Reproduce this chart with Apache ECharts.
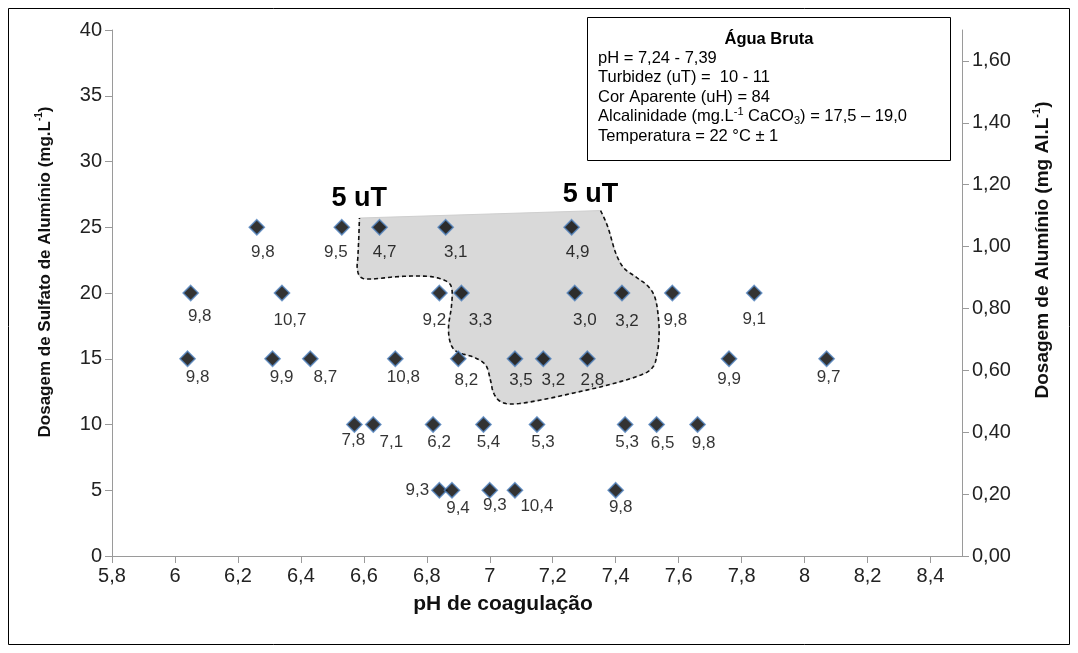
<!DOCTYPE html>
<html>
<head>
<meta charset="utf-8">
<script src="https://cdn.jsdelivr.net/npm/echarts@6/dist/echarts.min.js"></script>
<style>
  html, body { margin: 0; padding: 0; background: #ffffff; }
  #chart { width: 1078px; height: 653px; }
</style>
</head>
<body>
<div id="chart"></div>
<script>
// Jar tests: coagulation pH, aluminium sulphate dose (mg/L) and residual turbidity (uT)
const phDose25 = [6.26, 6.53, 6.65, 6.86, 7.26];
const turb25   = [9.8, 9.5, 4.7, 3.1, 4.9];
const phDose20 = [6.05, 6.34, 6.84, 6.91, 7.27, 7.42, 7.58, 7.84];
const turb20   = [9.8, 10.7, 9.2, 3.3, 3.0, 3.2, 9.8, 9.1];
const phDose15 = [6.04, 6.31, 6.43, 6.70, 6.90, 7.08, 7.17, 7.31, 7.76, 8.07];
const turb15   = [9.8, 9.9, 8.7, 10.8, 8.2, 3.5, 3.2, 2.8, 9.9, 9.7];
const phDose10 = [6.57, 6.63, 6.82, 6.98, 7.15, 7.43, 7.53, 7.66];
const turb10   = [7.8, 7.1, 6.2, 5.4, 5.3, 5.3, 6.5, 9.8];
const phDose5  = [6.84, 6.88, 7.00, 7.08, 7.40];
const turb5    = [9.3, 9.4, 9.3, 10.4, 9.8];

const doseLevels = [25, 20, 15, 10, 5];

// Tick values of the pH axis and of the aluminium (mg Al/L) axis
const phTicks = [5.8, 6.0, 6.2, 6.4, 6.6, 6.8, 7.0, 7.2, 7.4, 7.6, 7.8, 8.0, 8.2, 8.4];
const alTicks = [0, 0.2, 0.4, 0.6, 0.8, 1.0, 1.2, 1.4, 1.6];

// Outline of the region with residual turbidity of about 5 uT (pH, dose)
const zonePh   = [6.586, 7.352, 7.375, 7.400, 7.426, 7.464, 7.505, 7.527, 7.537, 7.537, 7.531, 7.518,
                  7.480, 7.375, 7.267, 7.162, 7.076, 7.034, 7.012, 7.002, 6.987, 6.948, 6.897, 6.875,
                  6.869, 6.878, 6.880, 6.866, 6.821, 6.758, 6.694, 6.621, 6.589, 6.579, 6.581, 6.584];
const zoneDose = [25.70, 26.27, 25.02, 23.04, 21.90, 21.22, 20.46, 19.47, 17.72, 16.43, 15.29, 14.37,
                  13.76, 13.00, 12.40, 11.86, 11.56, 11.75, 12.40, 13.38, 14.52, 15.13, 15.51, 16.20,
                  17.41, 18.94, 20.23, 20.84, 21.22, 21.29, 21.22, 21.06, 21.22, 21.90, 22.74, 24.26];

// "5 uT" captions (pH, dose)
const captionPh   = [6.585, 7.320];
const captionDose = [27.15, 27.45];
const captionText = ['5 uT', '5 uT'];

// Data-label nudges (px) for each row of points
const labelNudge = [
  [[6, 25], [-6, 25], [5, 25], [10, 25], [6, 25]],
  [[9, 23], [8, 27], [-5, 27], [19, 27], [10, 27], [5, 28], [3, 27], [0, 26]],
  [[10, 19], [9, 19], [15, 19], [8, 19], [8, 22], [6, 22], [10, 22], [5, 22], [0, 21], [2, 19]],
  [[-1, 16], [18, 18], [6, 18], [5, 18], [6, 18], [2, 18], [6, 19], [6, 19]],
  [[-22, 0], [6, 18], [5, 15], [22, 16], [5, 17]]
];

const FONT = '"Liberation Sans", Arial, sans-serif';
const rows = [[phDose25, turb25], [phDose20, turb20], [phDose15, turb15], [phDose10, turb10], [phDose5, turb5]];

const points = [];
rows.forEach(function (row, r) {
  row[0].forEach(function (ph, i) {
    points.push({
      value: [ph, doseLevels[r], row[1][i]],
      label: { offset: labelNudge[r][i] }
    });
  });
});

function comma(v, d) { return v.toFixed(d).replace('.', ','); }

// Catmull-Rom interpolation through the outline points
function catmull(pts, steps) {
  const out = [];
  const n = pts.length;
  for (let i = 0; i < n - 1; i++) {
    const p0 = pts[Math.max(i - 1, 0)], p1 = pts[i], p2 = pts[i + 1], p3 = pts[Math.min(i + 2, n - 1)];
    for (let s = 0; s < steps; s++) {
      const t = s / steps, t2 = t * t, t3 = t2 * t;
      out.push([
        0.5 * (2 * p1[0] + (-p0[0] + p2[0]) * t + (2 * p0[0] - 5 * p1[0] + 4 * p2[0] - p3[0]) * t2 + (-p0[0] + 3 * p1[0] - 3 * p2[0] + p3[0]) * t3),
        0.5 * (2 * p1[1] + (-p0[1] + p2[1]) * t + (2 * p0[1] - 5 * p1[1] + 4 * p2[1] - p3[1]) * t2 + (-p0[1] + 3 * p1[1] - 3 * p2[1] + p3[1]) * t3)
      ]);
    }
  }
  out.push(pts[n - 1]);
  return out;
}

function renderZone(params, api) {
  const px = zonePh.map(function (ph, i) { return api.coord([ph, zoneDose[i]]); });
  // dashed edge runs from the top-right corner round to the top-left corner
  const edge = px.slice(1).concat([px[0]]);
  const curve = catmull(edge, 8);
  const children = [
    { type: 'polygon', shape: { points: curve }, style: { fill: '#d9d9d9', stroke: '#cfcfcf', lineWidth: 1 } },
    { type: 'polyline', shape: { points: curve }, style: { fill: null, stroke: '#111', lineWidth: 1.6, lineDash: [4, 3] } }
  ];
  captionPh.forEach(function (ph, i) {
    const c = api.coord([ph, captionDose[i]]);
    children.push({
      type: 'text', x: c[0], y: c[1],
      style: { text: captionText[i], fill: '#000', font: 'bold 27px ' + FONT, align: 'center', verticalAlign: 'middle' }
    });
  });
  return { type: 'group', children: children };
}

const axisGray = '#9a9a9a';
const titleRich = function (size) {
  return {
    t: { fontFamily: FONT, fontSize: size, fontWeight: 'bold', fill: '#111', lineHeight: size + 4 },
    s: { fontFamily: FONT, fontSize: Math.round(size * 0.6), fontWeight: 'bold', fill: '#111', lineHeight: 11, verticalAlign: 'top' }
  };
};

const chart = echarts.init(document.getElementById('chart'), null, { renderer: 'canvas' });

chart.setOption({
  animation: false,
  backgroundColor: '#ffffff',
  grid: { left: 112, right: 116, top: 30, bottom: 97, containLabel: false },
  xAxis: {
    type: 'value', min: 5.8, max: 8.5, interval: 0.2,
    splitLine: { show: false },
    axisLine: { onZero: false, lineStyle: { color: axisGray, width: 1 } },
    axisTick: { show: true, length: 7, lineStyle: { color: axisGray }, customValues: phTicks },
    axisLabel: {
      fontFamily: FONT, fontSize: 20, color: '#222', margin: 10, customValues: phTicks,
      formatter: function (v) { return String(Math.round(v * 10) / 10).replace('.', ','); }
    }
  },
  yAxis: [
    {
      type: 'value', min: 0, max: 40, interval: 5, position: 'left',
      splitLine: { show: false },
      axisLine: { show: true, lineStyle: { color: axisGray, width: 1 } },
      axisTick: { show: true, length: 7, lineStyle: { color: axisGray } },
      axisLabel: { fontFamily: FONT, fontSize: 20, color: '#222', margin: 10 }
    },
    {
      type: 'value', min: 0, max: 1.7, interval: 0.2, position: 'right',
      splitLine: { show: false },
      axisLine: { show: true, lineStyle: { color: axisGray, width: 1 } },
      axisTick: { show: true, length: 7, lineStyle: { color: axisGray }, customValues: alTicks },
      axisLabel: {
        fontFamily: FONT, fontSize: 20, color: '#222', margin: 10, customValues: alTicks,
        formatter: function (v) { return comma(v, 2); }
      }
    }
  ],
  series: [
    {
      type: 'custom', name: 'zona 5 uT', coordinateSystem: 'cartesian2d', xAxisIndex: 0, yAxisIndex: 0,
      data: [0], renderItem: renderZone, z: 1, silent: true, clip: false
    },
    {
      type: 'scatter', name: 'Turbidez remanescente', xAxisIndex: 0, yAxisIndex: 0,
      symbol: 'diamond', symbolSize: 15, z: 3,
      itemStyle: { color: '#000000', borderColor: '#4f81bd', borderWidth: 1.6 },
      label: {
        show: true, position: 'inside', fontFamily: FONT, fontSize: 17, color: '#000',
        textBorderWidth: 0,
        formatter: function (p) { return comma(p.value[2], 1); }
      },
      data: points
    }
  ],
  graphic: [
    { type: 'rect', shape: { x: 8.5, y: 8.5, width: 1061, height: 636 }, style: { fill: null, stroke: '#000', lineWidth: 1 }, z: 0, silent: true },
    // axis titles
    {
      type: 'text', x: 45, y: 272, rotation: Math.PI / 2, silent: true,
      style: { text: '{t|Dosagem de Sulfato de Alumínio (mg.L}{s|-1}{t|)}', align: 'center', verticalAlign: 'middle', rich: titleRich(17) }
    },
    {
      type: 'text', x: 1043, y: 250, rotation: Math.PI / 2, silent: true,
      style: { text: '{t|Dosagem de Alumínio (mg Al.L}{s|-1}{t|)}', align: 'center', verticalAlign: 'middle', rich: titleRich(19) }
    },
    {
      type: 'text', x: 503, y: 604, silent: true,
      style: { text: 'pH de coagulação', font: 'bold 21px ' + FONT, fill: '#111', align: 'center', verticalAlign: 'middle' }
    },
    // raw water characteristics box
    {
      type: 'group', left: 587, top: 17, z: 10, silent: true,
      children: [
        { type: 'rect', shape: { x: 0.5, y: 0.5, width: 363, height: 143 }, style: { fill: '#fff', stroke: '#000', lineWidth: 1 } },
        { type: 'text', x: 182, y: 22, style: { text: 'Água Bruta', font: 'bold 16.5px ' + FONT, fill: '#000', align: 'center', verticalAlign: 'middle' } },
        { type: 'text', x: 11, y: 41, style: { text: 'pH = 7,24 - 7,39', font: '16.5px ' + FONT, fill: '#000', verticalAlign: 'middle' } },
        { type: 'text', x: 11, y: 60.5, style: { text: 'Turbidez (uT) =  10 - 11', font: '16.5px ' + FONT, fill: '#000', verticalAlign: 'middle' } },
        { type: 'text', x: 11, y: 80, style: { text: 'Cor Aparente (uH) = 84', font: '16.5px ' + FONT, fill: '#000', verticalAlign: 'middle' } },
        {
          type: 'text', x: 11, y: 99.5,
          style: {
            text: '{n|Alcalinidade (mg.L}{sp|-1}{n| CaCO}{sb|3}{n|) = 17,5 – 19,0}',
            verticalAlign: 'middle',
            rich: {
              n: { font: '16.5px ' + FONT, fill: '#000', lineHeight: 20 },
              sp: { font: '11px ' + FONT, fill: '#000', lineHeight: 10, verticalAlign: 'top' },
              sb: { font: '11px ' + FONT, fill: '#000', lineHeight: 10, verticalAlign: 'bottom' }
            }
          }
        },
        { type: 'text', x: 11, y: 119, style: { text: 'Temperatura = 22 °C ± 1', font: '16.5px ' + FONT, fill: '#000', verticalAlign: 'middle' } }
      ]
    }
  ]
});
</script>
</body>
</html>
